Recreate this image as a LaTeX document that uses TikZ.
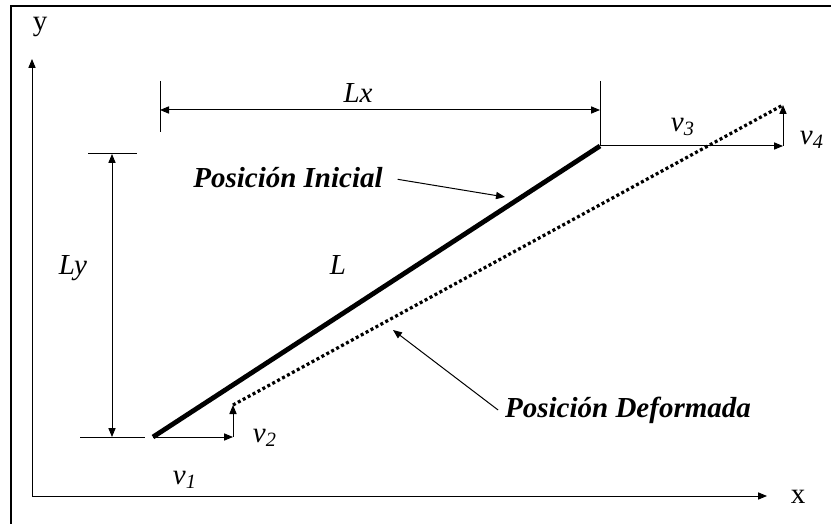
\documentclass[tikz,border=0pt]{standalone}
\usepackage{fontspec}
\setmainfont{Liberation Serif}
\usepackage{tikz}
\usetikzlibrary{arrows.meta, calc}

\begin{document}
\begin{tikzpicture}[x=0.5pt, y=-0.5pt, >={Triangle[length=4.5pt, width=3.6pt]},
  texto/.style={font=\fontsize{14.5}{17}\selectfont},
  etiq/.style={font=\fontsize{14.5}{17}\selectfont\itshape},
  titulo/.style={font=\fontsize{14.5}{17}\selectfont\bfseries\itshape},
  fina/.style={line width=0.5pt}]

  \useasboundingbox (0,0) rectangle (831,524);

  % Marco
  \draw[line width=0.7pt] (11,524) -- (11,6) -- (831,6);

  % Ejes
  \coordinate (O) at (32,496);
  \coordinate (ejeY) at (32,59);
  \coordinate (ejeX) at (767,496);
  \draw[->, fina] (O) -- (ejeY);
  \draw[->, fina] (O) -- (ejeX);
  \node[texto] (nomY) at (40,27) {y};
  \node[texto] (nomX) at (798,497) {x};

  % Barra inicial y deformada
  \coordinate (A) at (153,437);
  \coordinate (B) at (600,146);
  \coordinate (Ad) at (233,405);
  \coordinate (Bd) at (783,105);
  \draw[line width=2.4pt] (A) -- (B);
  \draw[line width=1.6pt, dash pattern=on 1.5pt off 1.3pt] (Ad) -- (Bd);

  % Desplazamientos
  \coordinate (A1) at (233,437);
  \coordinate (B1) at (783,146);
  \draw[->, fina] (A) -- (A1);
  \draw[->, fina] (A1) -- (Ad);
  \draw[->, fina] (B) -- (B1);
  \draw[->, fina] (B1) -- (Bd);
  \node[etiq] (v1) at (185,480) {v\textsubscript{1}};
  \node[etiq] (v2) at (265,438) {v\textsubscript{2}};
  \node[etiq] (v3) at (683,127) {v\textsubscript{3}};
  \node[etiq] (v4) at (812,140) {v\textsubscript{4}};

  % Cotas
  \draw[fina] (160,81) -- (160,132);
  \draw[fina] (600,81) -- (B);
  \coordinate (Lx1) at (160,110);
  \coordinate (Lx2) at (600,110);
  \draw[<->, fina] (Lx1) -- (Lx2);
  \node[etiq] (lx) at (358,93) {Lx};

  \draw[fina] (88,154) -- (137,154);
  \draw[fina] (80,437) -- (145,437);
  \coordinate (Ly1) at (112,154);
  \coordinate (Ly2) at (112,437);
  \draw[<->, fina] (Ly1) -- (Ly2);
  \node[etiq] (ly) at (73,268) {Ly};

  \node[etiq] (L) at (338,265) {L};

  % Rotulos
  \node[titulo] (pi) at (288,178) {Posición Inicial};
  \coordinate (puntaI) at (505,197);
  \draw[->, fina, shorten <=4pt] (pi.east) -- (puntaI);

  \node[titulo] (pd) at (628,410) {Posición Deformada};
  \coordinate (puntaD) at (393,330);
  \draw[->, fina] (pd.west) -- (puntaD);

\end{tikzpicture}
\end{document}
